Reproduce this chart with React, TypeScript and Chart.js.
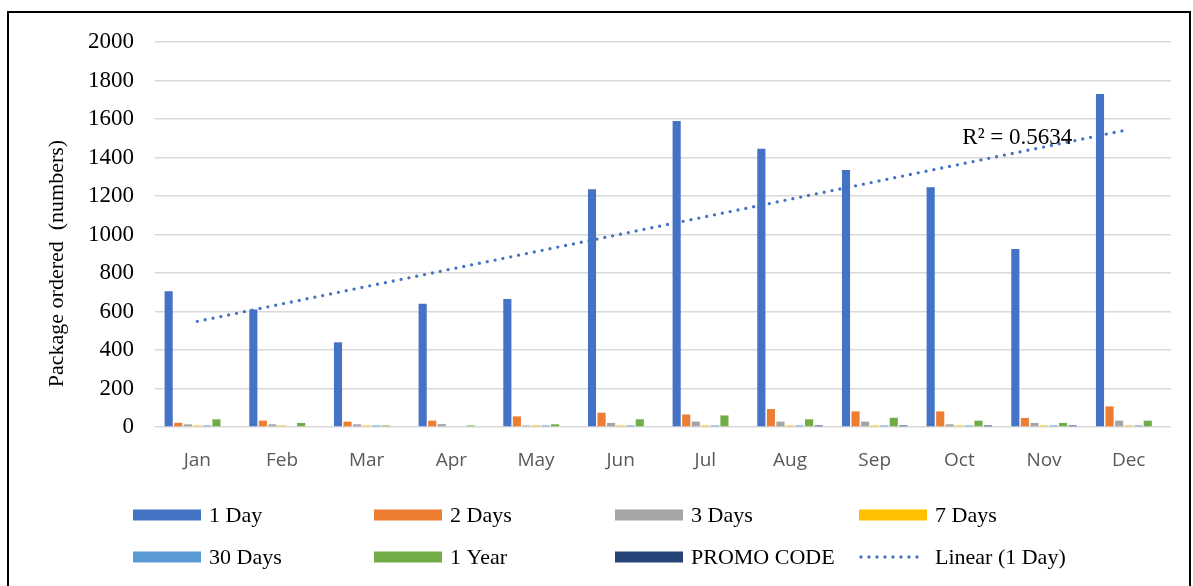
import React, { useEffect, useRef } from 'react';
import { Chart, registerables } from 'chart.js';

Chart.register(...registerables);

const months = ['Jan', 'Feb', 'Mar', 'Apr', 'May', 'Jun', 'Jul', 'Aug', 'Sep', 'Oct', 'Nov', 'Dec'];
const oneDay = [705, 610, 440, 640, 665, 1235, 1590, 1445, 1335, 1245, 925, 1730];
const twoDays = [22, 33, 28, 33, 55, 74, 65, 93, 81, 81, 47, 107];
const threeDays = [14, 14, 14, 15, 8, 21, 28, 28, 28, 14, 21, 33];
const sevenDays = [8, 8, 8, 0, 8, 8, 8, 8, 8, 8, 8, 8];
const thirtyDays = [8, 0, 8, 0, 8, 8, 8, 8, 8, 8, 8, 8];
const oneYear = [40, 21, 8, 8, 14, 40, 60, 40, 48, 33, 21, 33];
const promoCode = [0, 0, 0, 0, 0, 0, 0, 8, 8, 8, 8, 0];
const yTicks = [0, 200, 400, 600, 800, 1000, 1200, 1400, 1600, 1800, 2000];
const rSquaredLabel = 'R² = 0.5634';
const yAxisTitle = 'Package ordered  (numbers)';

const SERIF = '"Liberation Serif", "Times New Roman", serif';

function linearFit(ys: number[]): number[] {
  const n = ys.length;
  const xs = ys.map((_, i) => i);
  const mx = xs.reduce((a, b) => a + b, 0) / n;
  const my = ys.reduce((a, b) => a + b, 0) / n;
  let sxy = 0;
  let sxx = 0;
  for (let i = 0; i < n; i++) {
    sxy += (xs[i] - mx) * (ys[i] - my);
    sxx += (xs[i] - mx) * (xs[i] - mx);
  }
  const slope = sxy / sxx;
  const intercept = my - slope * mx;
  return xs.map((x) => intercept + slope * x);
}

const LEGEND_X = [133, 374, 615, 859];
const LEGEND_Y = [515, 557];

const gridLegend = {
  id: 'gridLegend',
  afterDraw(chart: any) {
    const ctx = chart.ctx as CanvasRenderingContext2D;
    ctx.save();
    chart.data.datasets.forEach((ds: any, i: number) => {
      const col = i % 4;
      const row = Math.floor(i / 4);
      const x = LEGEND_X[col];
      const y = LEGEND_Y[row];
      if (ds.type === 'line') {
        ctx.strokeStyle = ds.borderColor;
        ctx.lineWidth = 3.3;
        ctx.lineCap = 'round';
        ctx.setLineDash([0, 8]);
        ctx.beginPath();
        ctx.moveTo(x + 2, y);
        ctx.lineTo(x + 66, y);
        ctx.stroke();
        ctx.setLineDash([]);
      } else {
        ctx.fillStyle = ds.backgroundColor;
        ctx.fillRect(x, y - 5.5, 68, 11);
      }
      ctx.fillStyle = '#000';
      ctx.font = `22px ${SERIF}`;
      ctx.textAlign = 'left';
      ctx.textBaseline = 'middle';
      ctx.fillText(ds.label, x + 76, y + 1);
    });
    ctx.restore();
  },
};

const extraText = {
  id: 'extraText',
  afterDraw(chart: any) {
    const ctx = chart.ctx as CanvasRenderingContext2D;
    const { chartArea, scales } = chart;
    ctx.save();
    ctx.fillStyle = '#000';
    ctx.font = `23px ${SERIF}`;
    ctx.textAlign = 'left';
    ctx.textBaseline = 'middle';
    ctx.fillText(rSquaredLabel, scales.x.getPixelForValue(9) + 3, scales.y.getPixelForValue(1500));
    ctx.font = `22px ${SERIF}`;
    ctx.translate(chartArea.left - 98, (chartArea.top + chartArea.bottom) / 2 + 29);
    ctx.rotate(-Math.PI / 2);
    ctx.textAlign = 'center';
    ctx.fillText(yAxisTitle, 0, 0);
    ctx.restore();
  },
};

export default function App() {
  const ref = useRef<HTMLCanvasElement | null>(null);

  useEffect(() => {
    if (!ref.current) return;
    const barDs = (label: string, data: number[], color: string) => ({
      type: 'bar' as const,
      label,
      data,
      backgroundColor: color,
      borderWidth: 0,
      categoryPercentage: 0.79,
      barPercentage: 0.85,
      order: 1,
    });
    const chart = new Chart(ref.current, {
      type: 'bar',
      data: {
        labels: months,
        datasets: [
          barDs('1 Day', oneDay, '#4472C4'),
          barDs('2 Days', twoDays, '#ED7D31'),
          barDs('3 Days', threeDays, '#A5A5A5'),
          barDs('7 Days', sevenDays, '#FFC000'),
          barDs('30 Days', thirtyDays, '#5B9BD5'),
          barDs('1 Year', oneYear, '#70AD47'),
          barDs('PROMO CODE', promoCode, '#264478'),
          {
            type: 'line' as const,
            label: 'Linear (1 Day)',
            data: linearFit(oneDay),
            borderColor: '#4472C4',
            backgroundColor: '#4472C4',
            borderWidth: 3.3,
            borderDash: [0, 8],
            borderCapStyle: 'round',
            pointRadius: 0,
            fill: false,
            order: -1,
          } as any,
        ],
      },
      options: {
        responsive: false,
        animation: false,
        layout: { padding: { top: 42, right: 22, left: 0, bottom: 0 } },
        plugins: {
          legend: { display: false },
          tooltip: { enabled: false },
          title: { display: false },
        },
        scales: {
          x: {
            grid: { display: false },
            border: { display: false },
            ticks: {
              font: { family: '"Open Sans", sans-serif', size: 19 },
              color: '#595959',
              padding: 14,
            },
            afterFit(s: any) {
              s.height = 159;
            },
          },
          y: {
            min: 0,
            max: 2000,
            afterBuildTicks(s: any) {
              s.ticks = yTicks.map((v) => ({ value: v }));
            },
            ticks: {
              font: { family: SERIF, size: 23 },
              color: '#000',
              padding: 21,
              callback: (v: any) => String(v),
            },
            grid: { color: '#d9d9d9', lineWidth: 1.5, drawTicks: false },
            border: { display: false },
            afterFit(s: any) {
              s.width = 155;
            },
          },
        },
      },
      plugins: [gridLegend, extraText],
    });
    return () => chart.destroy();
  }, []);

  return (
    <div
      style={{
        position: 'fixed',
        left: 0,
        top: 0,
        width: 1193,
        height: 586,
        overflow: 'hidden',
        background: '#fff',
      }}
    >
      <div
        style={{
          position: 'absolute',
          left: 7,
          top: 11,
          width: 1184,
          height: 620,
          border: '2px solid #000',
          boxSizing: 'border-box',
        }}
      />
      <canvas
        ref={ref}
        width={1193}
        height={586}
        style={{ position: 'absolute', left: 0, top: 0, width: 1193, height: 586 }}
      />
    </div>
  );
}
